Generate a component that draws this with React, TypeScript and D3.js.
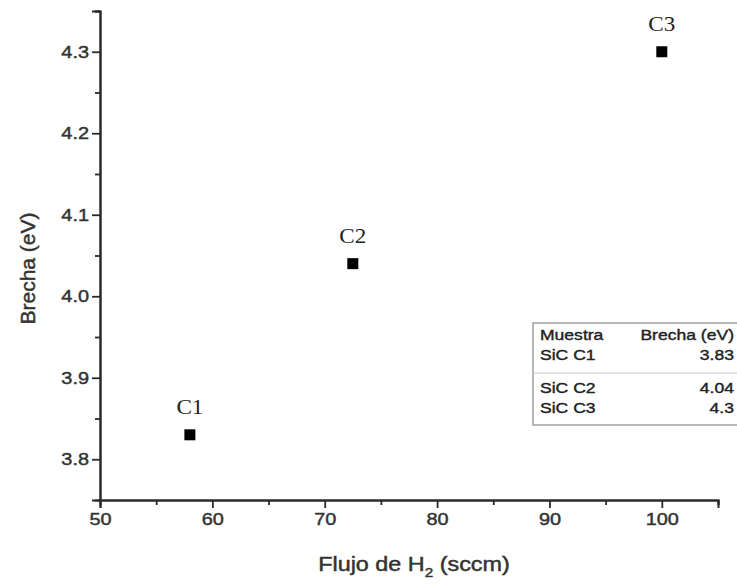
import { useRef, useEffect } from "react";
import * as d3 from "d3";

const samples = ["C1", "C2", "C3"];
const flow = [58, 72.5, 100];
const gap = [3.83, 4.04, 4.3];
const tableNames = ["SiC C1", "SiC C2", "SiC C3"];
const tableValues = ["3.83", "4.04", "4.3"];
const xTicks = [50, 60, 70, 80, 90, 100];
const xMinor = [55, 65, 75, 85, 95, 105];
const yTicks = [3.8, 3.9, 4.0, 4.1, 4.2, 4.3];
const yMinor = [3.85, 3.95, 4.05, 4.15, 4.25, 4.35];

// the scanned figure is a little wider than tall in its lettering
const SX = 1.17;

export default function App() {
  const svgRef = useRef<SVGSVGElement>(null);

  useEffect(() => {
    const svg = d3.select(svgRef.current);
    svg.selectAll("*").remove();

    const font = "Liberation Sans, Arial, sans-serif";
    const ink = "#2a2a2a";
    const x = d3.scaleLinear().domain([50, 105]).range([100, 718]);
    const y = d3.scaleLinear().domain([3.75, 4.35]).range([500, 11]);

    const g = svg.append("g").style("font-family", font);

    const medium = (sel: any, size: number) =>
      sel.attr("font-size", size).attr("font-family", font)
        .attr("fill", "#333").attr("stroke", "#333").attr("stroke-width", 0.45);

    // y axis
    const yAxis = g.append("g").attr("transform", `translate(${x(50)},0)`);
    yAxis.call(
      d3.axisLeft(y).tickValues(yTicks).tickSize(8).tickPadding(3)
        .tickFormat(d3.format(".1f"))
    );
    yAxis.append("g").call(
      d3.axisLeft(y).tickValues(yMinor).tickSize(5).tickFormat(() => "")
    );
    yAxis.selectAll("path.domain").attr("stroke-width", 2).attr("stroke", ink);
    yAxis.selectAll("line").attr("stroke-width", 1.8).attr("stroke", ink);
    medium(yAxis.selectAll("text"), 17)
      .attr("x", -11 / SX)
      .attr("transform", `scale(${SX},1)`);

    // x axis
    const xAxis = g.append("g").attr("transform", `translate(0,${y(3.75)})`);
    xAxis.call(
      d3.axisBottom(x).tickValues(xTicks).tickSize(8).tickPadding(5).tickFormat(d3.format("d"))
    );
    xAxis.append("g").call(
      d3.axisBottom(x).tickValues(xMinor).tickSize(5).tickFormat(() => "")
    );
    xAxis.selectAll("path.domain").attr("stroke-width", 2).attr("stroke", ink);
    xAxis.selectAll("line").attr("stroke-width", 1.8).attr("stroke", ink);
    medium(xAxis.selectAll("text"), 17).attr("transform", `scale(${SX},1)`);

    // axis titles
    medium(g.append("text"), 21)
      .attr("transform", `translate(35,${(y(3.75) + y(4.35)) / 2 + 13}) rotate(-90)`)
      .attr("text-anchor", "middle")
      .text("Brecha (eV)");

    const xt = medium(g.append("text"), 20)
      .attr("transform", `translate(414,571) scale(${SX},1)`)
      .attr("text-anchor", "middle");
    xt.append("tspan").text("Flujo de H");
    xt.append("tspan").attr("font-size", 13).attr("dy", 6).text("2");
    xt.append("tspan").attr("dy", -6).text(" (sccm)");

    // points
    const pts = g.append("g")
      .selectAll("g")
      .data(samples)
      .join("g")
      .attr("transform", (_, i) => `translate(${x(flow[i])},${y(gap[i])})`);
    pts.append("rect").attr("x", -5.5).attr("y", -5.5).attr("width", 11).attr("height", 11).attr("fill", "#000");
    pts.append("text")
      .attr("y", -21)
      .attr("text-anchor", "middle")
      .attr("transform", "scale(1.1,1)")
      .attr("font-family", "Liberation Serif, Times New Roman, serif")
      .attr("font-size", 21)
      .attr("fill", "#222")
      .text((d) => d);

    // table
    const t = g.append("g");
    t.append("rect")
      .attr("x", 533).attr("y", 323).attr("width", 210).attr("height", 102)
      .attr("fill", "#fff").attr("stroke", "#888").attr("stroke-width", 1.2);
    t.append("line").attr("x1", 533).attr("x2", 737).attr("y1", 373).attr("y2", 373).attr("stroke", "#ccc");
    const txt = (xp: number, yp: number, s: string, anchor = "start") =>
      medium(t.append("text"), 15)
        .attr("transform", `translate(${xp},${yp}) scale(${SX},1)`)
        .attr("text-anchor", anchor)
        .attr("fill", "#222").attr("stroke", "#222").attr("stroke-width", 0.4)
        .text(s);
    txt(540, 340, "Muestra");
    txt(734, 340, "Brecha (eV)", "end");
    const rowY = [360, 393, 413];
    tableNames.forEach((n, i) => {
      txt(540, rowY[i], n);
      txt(734, rowY[i], tableValues[i], "end");
    });
  }, []);

  return (
    <svg
      ref={svgRef}
      width={737}
      height={586}
      style={{ position: "absolute", left: 0, top: 0, background: "#fff" }}
    />
  );
}
